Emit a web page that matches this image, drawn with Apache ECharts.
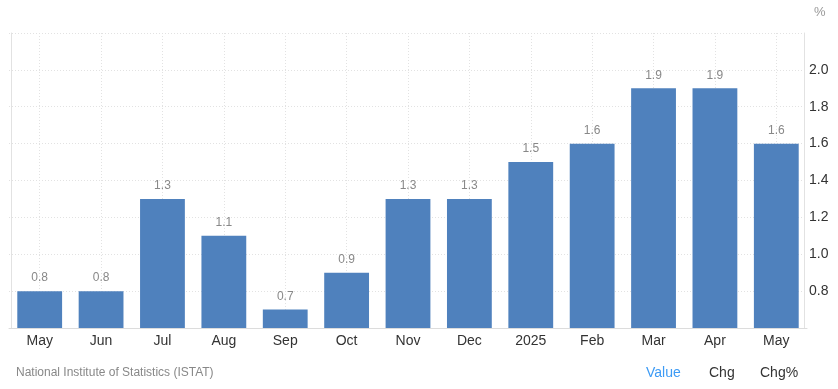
<!DOCTYPE html>
<html>
<head>
<meta charset="utf-8">
<script src="https://cdn.jsdelivr.net/npm/echarts@6/dist/echarts.min.js"></script>
<style>
html,body{margin:0;padding:0;background:#fff;}
#c{width:838px;height:389px;}
</style>
</head>
<body>
<div id="c"></div>
<script>
const categories = ['May','Jun','Jul','Aug','Sep','Oct','Nov','Dec','2025','Feb','Mar','Apr','May'];
const values = [0.8,0.8,1.3,1.1,0.7,0.9,1.3,1.3,1.5,1.6,1.9,1.9,1.6];
const yTickLabels = ['0.8','1.0','1.2','1.4','1.6','1.8','2.0'];
const footerSource = 'National Institute of Statistics (ISTAT)';
const tabs = ['Value','Chg','Chg%'];

const FONT = '"Liberation Sans", Arial, sans-serif';
const chart = echarts.init(document.getElementById('c'), null, {renderer:'canvas'});
chart.setOption({
  animation:false,
  backgroundColor:'#fff',
  grid:{left:9, right:31, top:33, bottom:61, containLabel:false},
  xAxis:{
    type:'category',
    data:categories,
    boundaryGap:true,
    axisLine:{show:true, lineStyle:{color:'#dcdcdc', width:1}},
    axisTick:{show:false},
    axisLabel:{color:'#333', fontSize:14, fontFamily:FONT, margin:6, interval:0},
    splitLine:{show:true, alignWithLabel:true, lineStyle:{color:'#e2e2e2', type:[1,2], width:1}}
  },
  yAxis:[{
    type:'value',
    position:'right',
    offset:-3,
    min:0.6, max:2.2, interval:0.2,
    name:'%',
    nameLocation:'end',
    nameGap:14,
    nameTextStyle:{color:'#999', fontSize:13, fontFamily:FONT, align:'left', padding:[0,0,0,10]},
    axisLine:{show:true, lineStyle:{color:'#e2e2e2', width:1}},
    axisTick:{show:false},
    axisLabel:{
      color:'#333', fontSize:14, fontFamily:FONT, margin:5,
      formatter:function(v){
        const s = v.toFixed(1);
        return yTickLabels.indexOf(s) >= 0 ? s : '';
      }
    },
    splitLine:{show:true, lineStyle:{color:'#e2e2e2', type:[1,2], width:1}}
  },{
    type:'value',
    position:'left',
    offset:-2,
    min:0.6, max:2.2, interval:0.2,
    axisLine:{show:true, lineStyle:{color:'#e2e2e2', width:1}},
    axisTick:{show:false},
    axisLabel:{show:false},
    splitLine:{show:false}
  }],
  series:[{
    type:'bar',
    data:values,
    yAxisIndex:0,
    barWidth:'73%',
    itemStyle:{color:'#4f81bd'},
    label:{
      show:true, position:'top', distance:7,
      color:'#888', fontSize:12, fontFamily:FONT,
      formatter:function(p){ return p.value.toFixed(1); }
    }
  }],
  title:[
    {text:footerSource, left:16, top:367, textStyle:{color:'#888', fontSize:12, fontWeight:'normal', fontFamily:FONT}, padding:0},
    {text:tabs[0], left:646, top:366, textStyle:{color:'#3d9bf5', fontSize:14, fontWeight:'normal', fontFamily:FONT}, padding:0},
    {text:tabs[1], left:709, top:366, textStyle:{color:'#333', fontSize:14, fontWeight:'normal', fontFamily:FONT}, padding:0},
    {text:tabs[2], left:760, top:366, textStyle:{color:'#333', fontSize:14, fontWeight:'normal', fontFamily:FONT}, padding:0}
  ]
});
</script>
</body>
</html>
